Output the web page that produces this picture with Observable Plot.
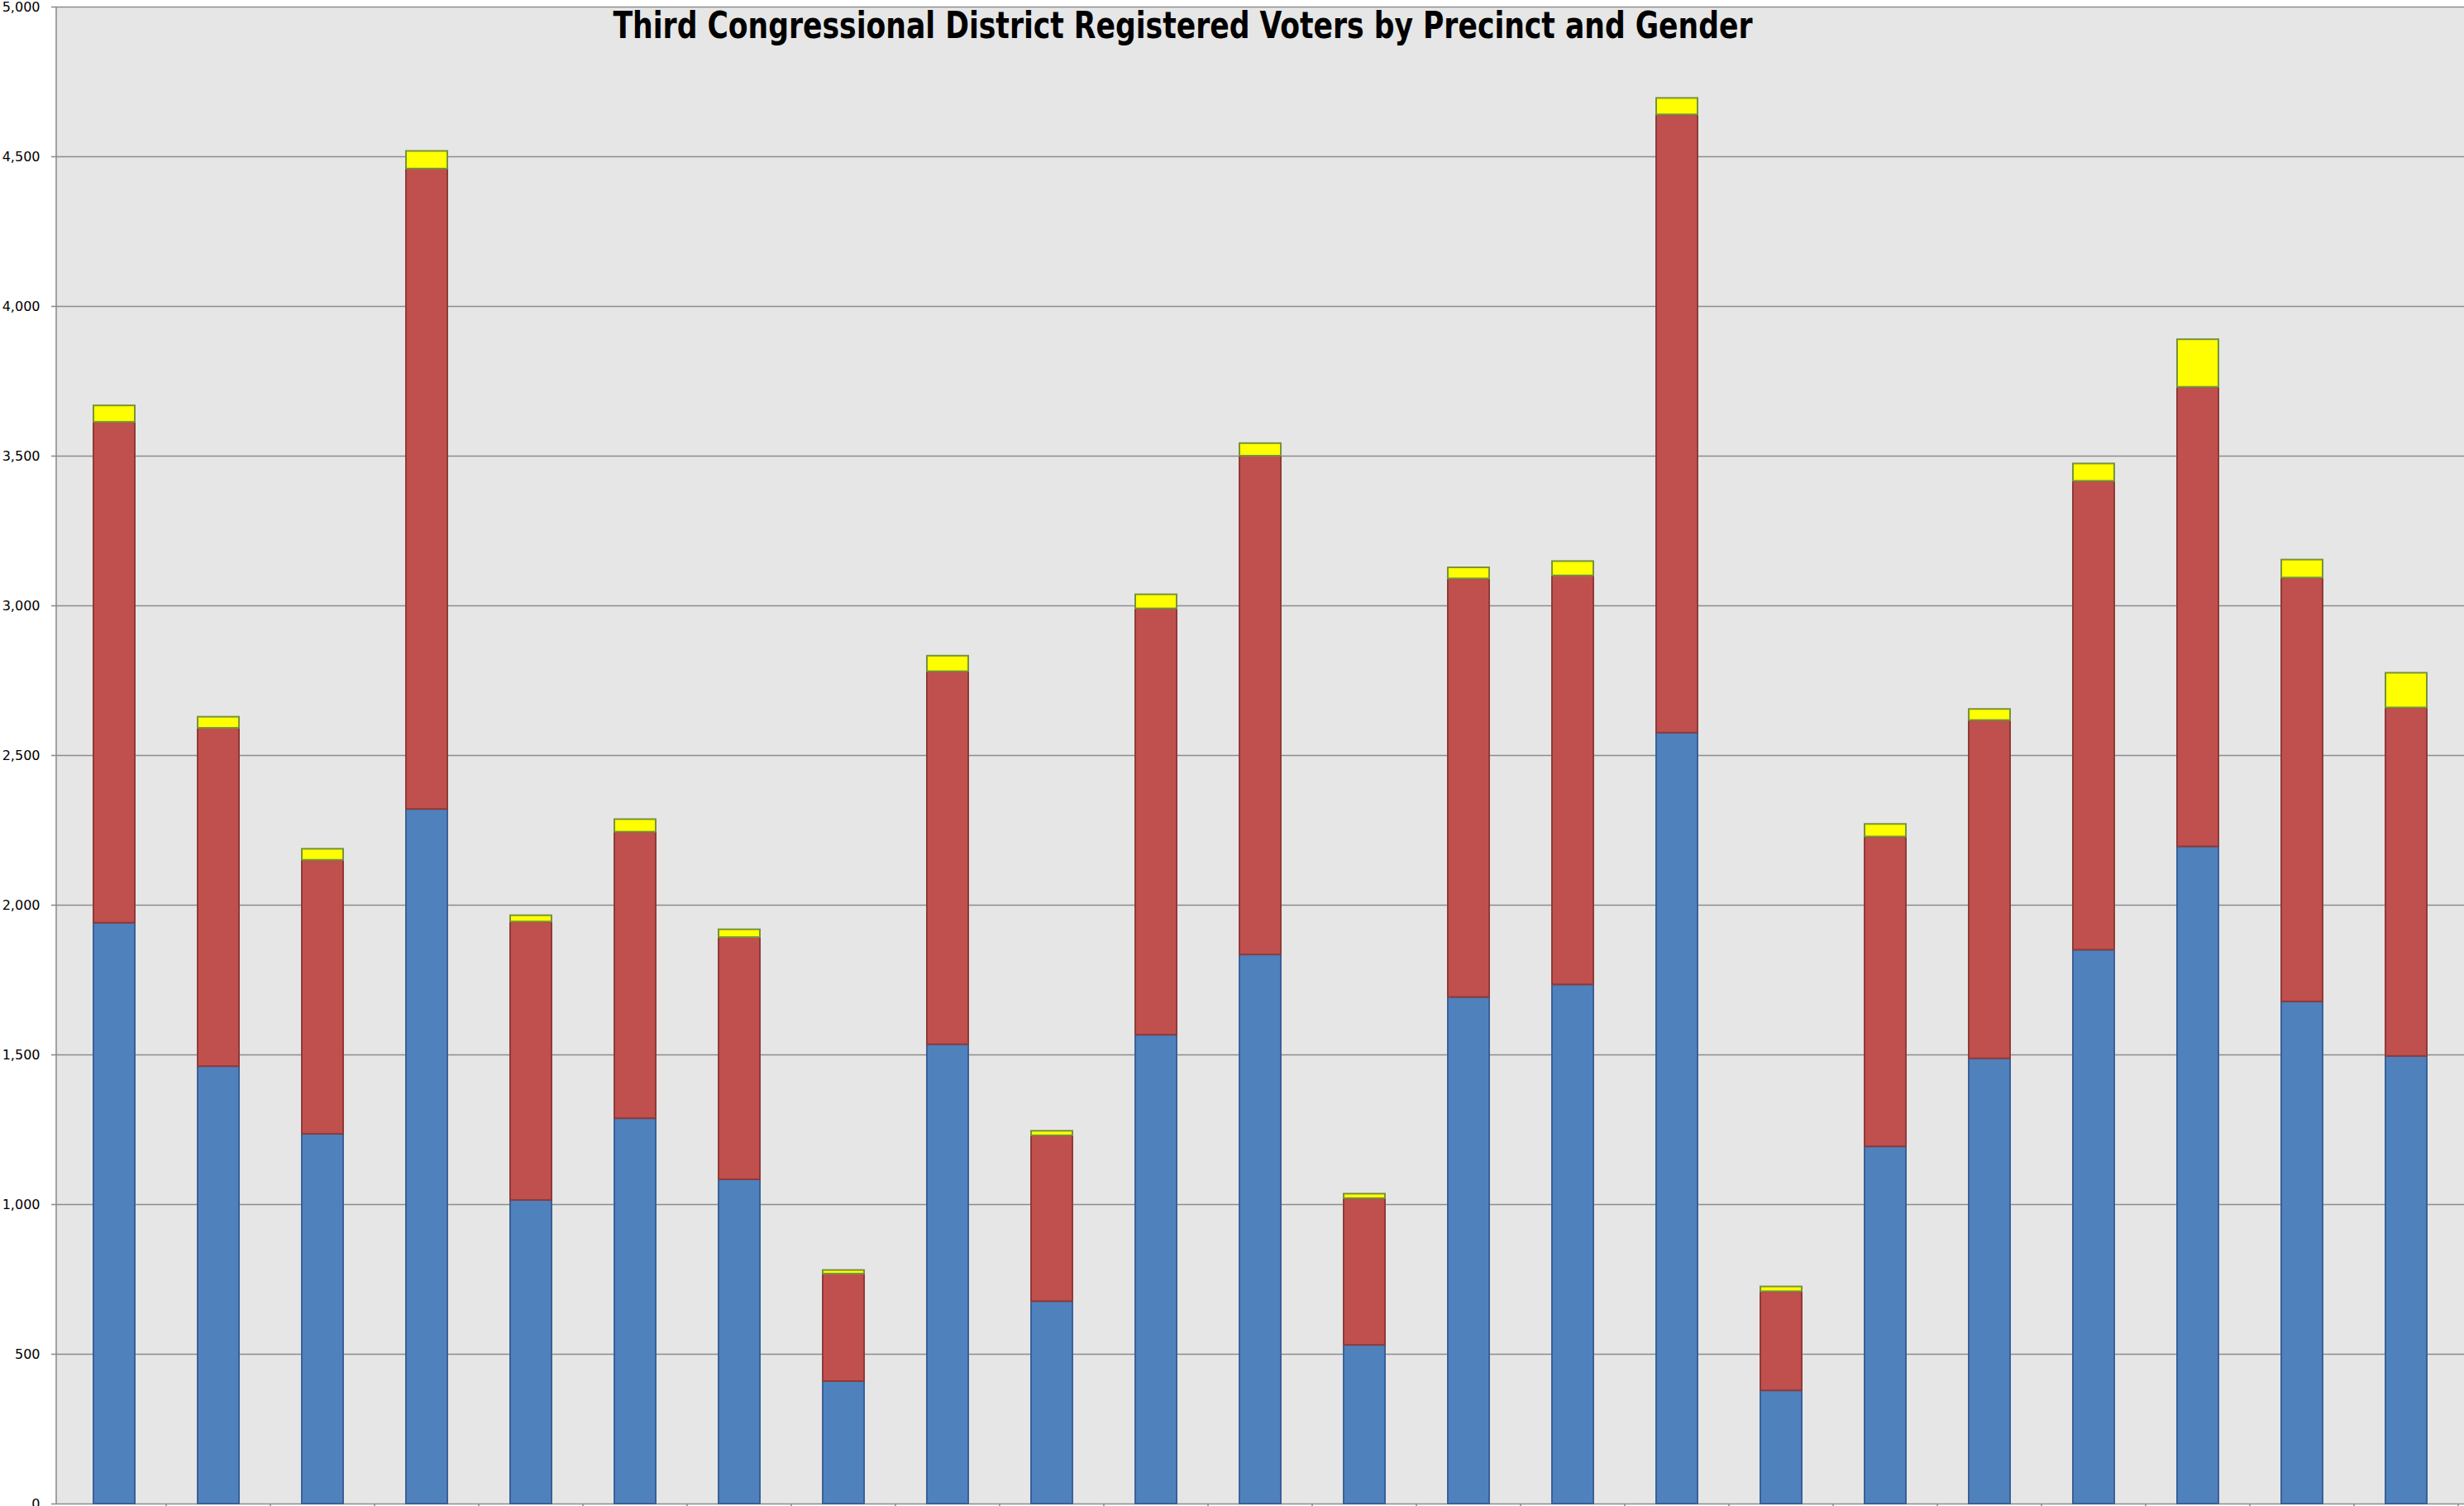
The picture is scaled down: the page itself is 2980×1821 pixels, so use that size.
<!DOCTYPE html>
<html>
<head>
<meta charset="utf-8">
<script src="https://cdn.jsdelivr.net/npm/d3@7"></script>
<script src="https://cdn.jsdelivr.net/npm/@observablehq/plot@0.6"></script>
<style>
  html, body { margin: 0; padding: 0; background: #ffffff; }
  #chart svg { display: block; }
</style>
</head>
<body>
<div id="chart"></div>
<script>
// ---- data ----
const titleText = "Third Congressional District Registered Voters by Precinct and Gender";
const precincts = ["P1","P2","P3","P4","P5","P6","P7","P8","P9","P10","P11","P12",
                   "P13","P14","P15","P16","P17","P18","P19","P20","P21","P22","P23"];
const seriesNames = ["Female", "Male", "Unknown"];
const female  = [1940,1461,1235,2320,1014,1287,1083,409,1534,676,1566,1834,530,1692,1734,2575,378,1193,1487,1850,2195,1677,1495];
const male    = [1673,1130, 915,2139, 930, 957, 809,359,1246,554,1424,1666,490,1398,1366,2065,331,1035,1130,1566,1535,1416,1164];
const unknown = [  55,  37,  37,  59,  21,  42,  26, 12,  52, 15,  47,  42, 15,  37,  48,  55, 16,  42,  37,  58, 159,  60, 116];
const yTicks  = [0,500,1000,1500,2000,2500,3000,3500,4000,4500,5000];

// ---- styles ----
const fillOf   = {Female: "#4f81bd", Male: "#c0504d", Unknown: "#ffff00"};
const strokeOf = {Female: "#3a6096", Male: "#8f3a38", Unknown: "#77933c"};

const seriesValues = [female, male, unknown];
const rows = [];
precincts.forEach((p, i) => {
  seriesNames.forEach((s, k) => rows.push({precinct: p, series: s, value: seriesValues[k][i]}));
});

const fmt = d3.format(",");

// left axis line and category ticks (band boundaries), drawn from the scales
function axisDecor(index, scales, values, dimensions) {
  const g = d3.create("svg:g");
  const {marginLeft, marginTop, height, marginBottom} = dimensions;
  const y0 = height - marginBottom;
  g.append("line")
    .attr("x1", marginLeft).attr("x2", marginLeft)
    .attr("y1", marginTop).attr("y2", y0)
    .attr("stroke", "#8c8c8c").attr("stroke-width", 1.6);
  const step = scales.x.step ? scales.x.step() : 0;
  precincts.forEach(p => {
    const xb = scales.x(p) + scales.x.bandwidth() / 2 + step / 2;
    g.append("line")
      .attr("x1", xb).attr("x2", xb)
      .attr("y1", y0).attr("y2", y0 + 6)
      .attr("stroke", "#8c8c8c").attr("stroke-width", 1.6);
  });
  return g.node();
}

const chart = Plot.plot({
  width: 2980,
  height: 1821,
  marginLeft: 68,
  marginRight: 0,
  marginTop: 8,
  marginBottom: 3,
  style: {background: "#ffffff", fontFamily: "'DejaVu Sans', sans-serif", fontSize: "16px", color: "#000"},
  x: {domain: precincts, paddingInner: 0.6, paddingOuter: 0.3, axis: null},
  y: {domain: [0, 5000], axis: null},
  color: {type: "identity"},
  marks: [
    Plot.frame({fill: "#e6e6e6", stroke: null}),
    Plot.ruleY(yTicks, {stroke: "#8c8c8c", strokeWidth: 1.6}),
    Plot.axisY(yTicks, {tickFormat: d => fmt(d), tickSize: 6, tickPadding: 14, label: null,
                stroke: "#8c8c8c", strokeWidth: 1.6, fill: "#000", fontSize: 16}),
    Plot.barY(rows, Plot.stackY({
      x: "precinct",
      y: "value",
      z: "series",
      fill: d => fillOf[d.series],
      stroke: d => strokeOf[d.series],
      strokeWidth: 2
    })),
    axisDecor,
    Plot.text([titleText], {
      text: d => d,
      frameAnchor: "top",
      dx: -94,
      dy: 6,
      fontSize: 44,
      fontWeight: "bold",
      fontFamily: "'Liberation Sans Narrow', 'DejaVu Sans Condensed', sans-serif",
      fill: "#000",
      className: "chart-title"
    })
  ]
});
// fit the title to the reference's width (its font is a narrow one)
d3.select(chart).selectAll(".chart-title text")
  .attr("textLength", 1378)
  .attr("lengthAdjust", "spacingAndGlyphs");
document.getElementById("chart").appendChild(chart);
</script>
</body>
</html>
